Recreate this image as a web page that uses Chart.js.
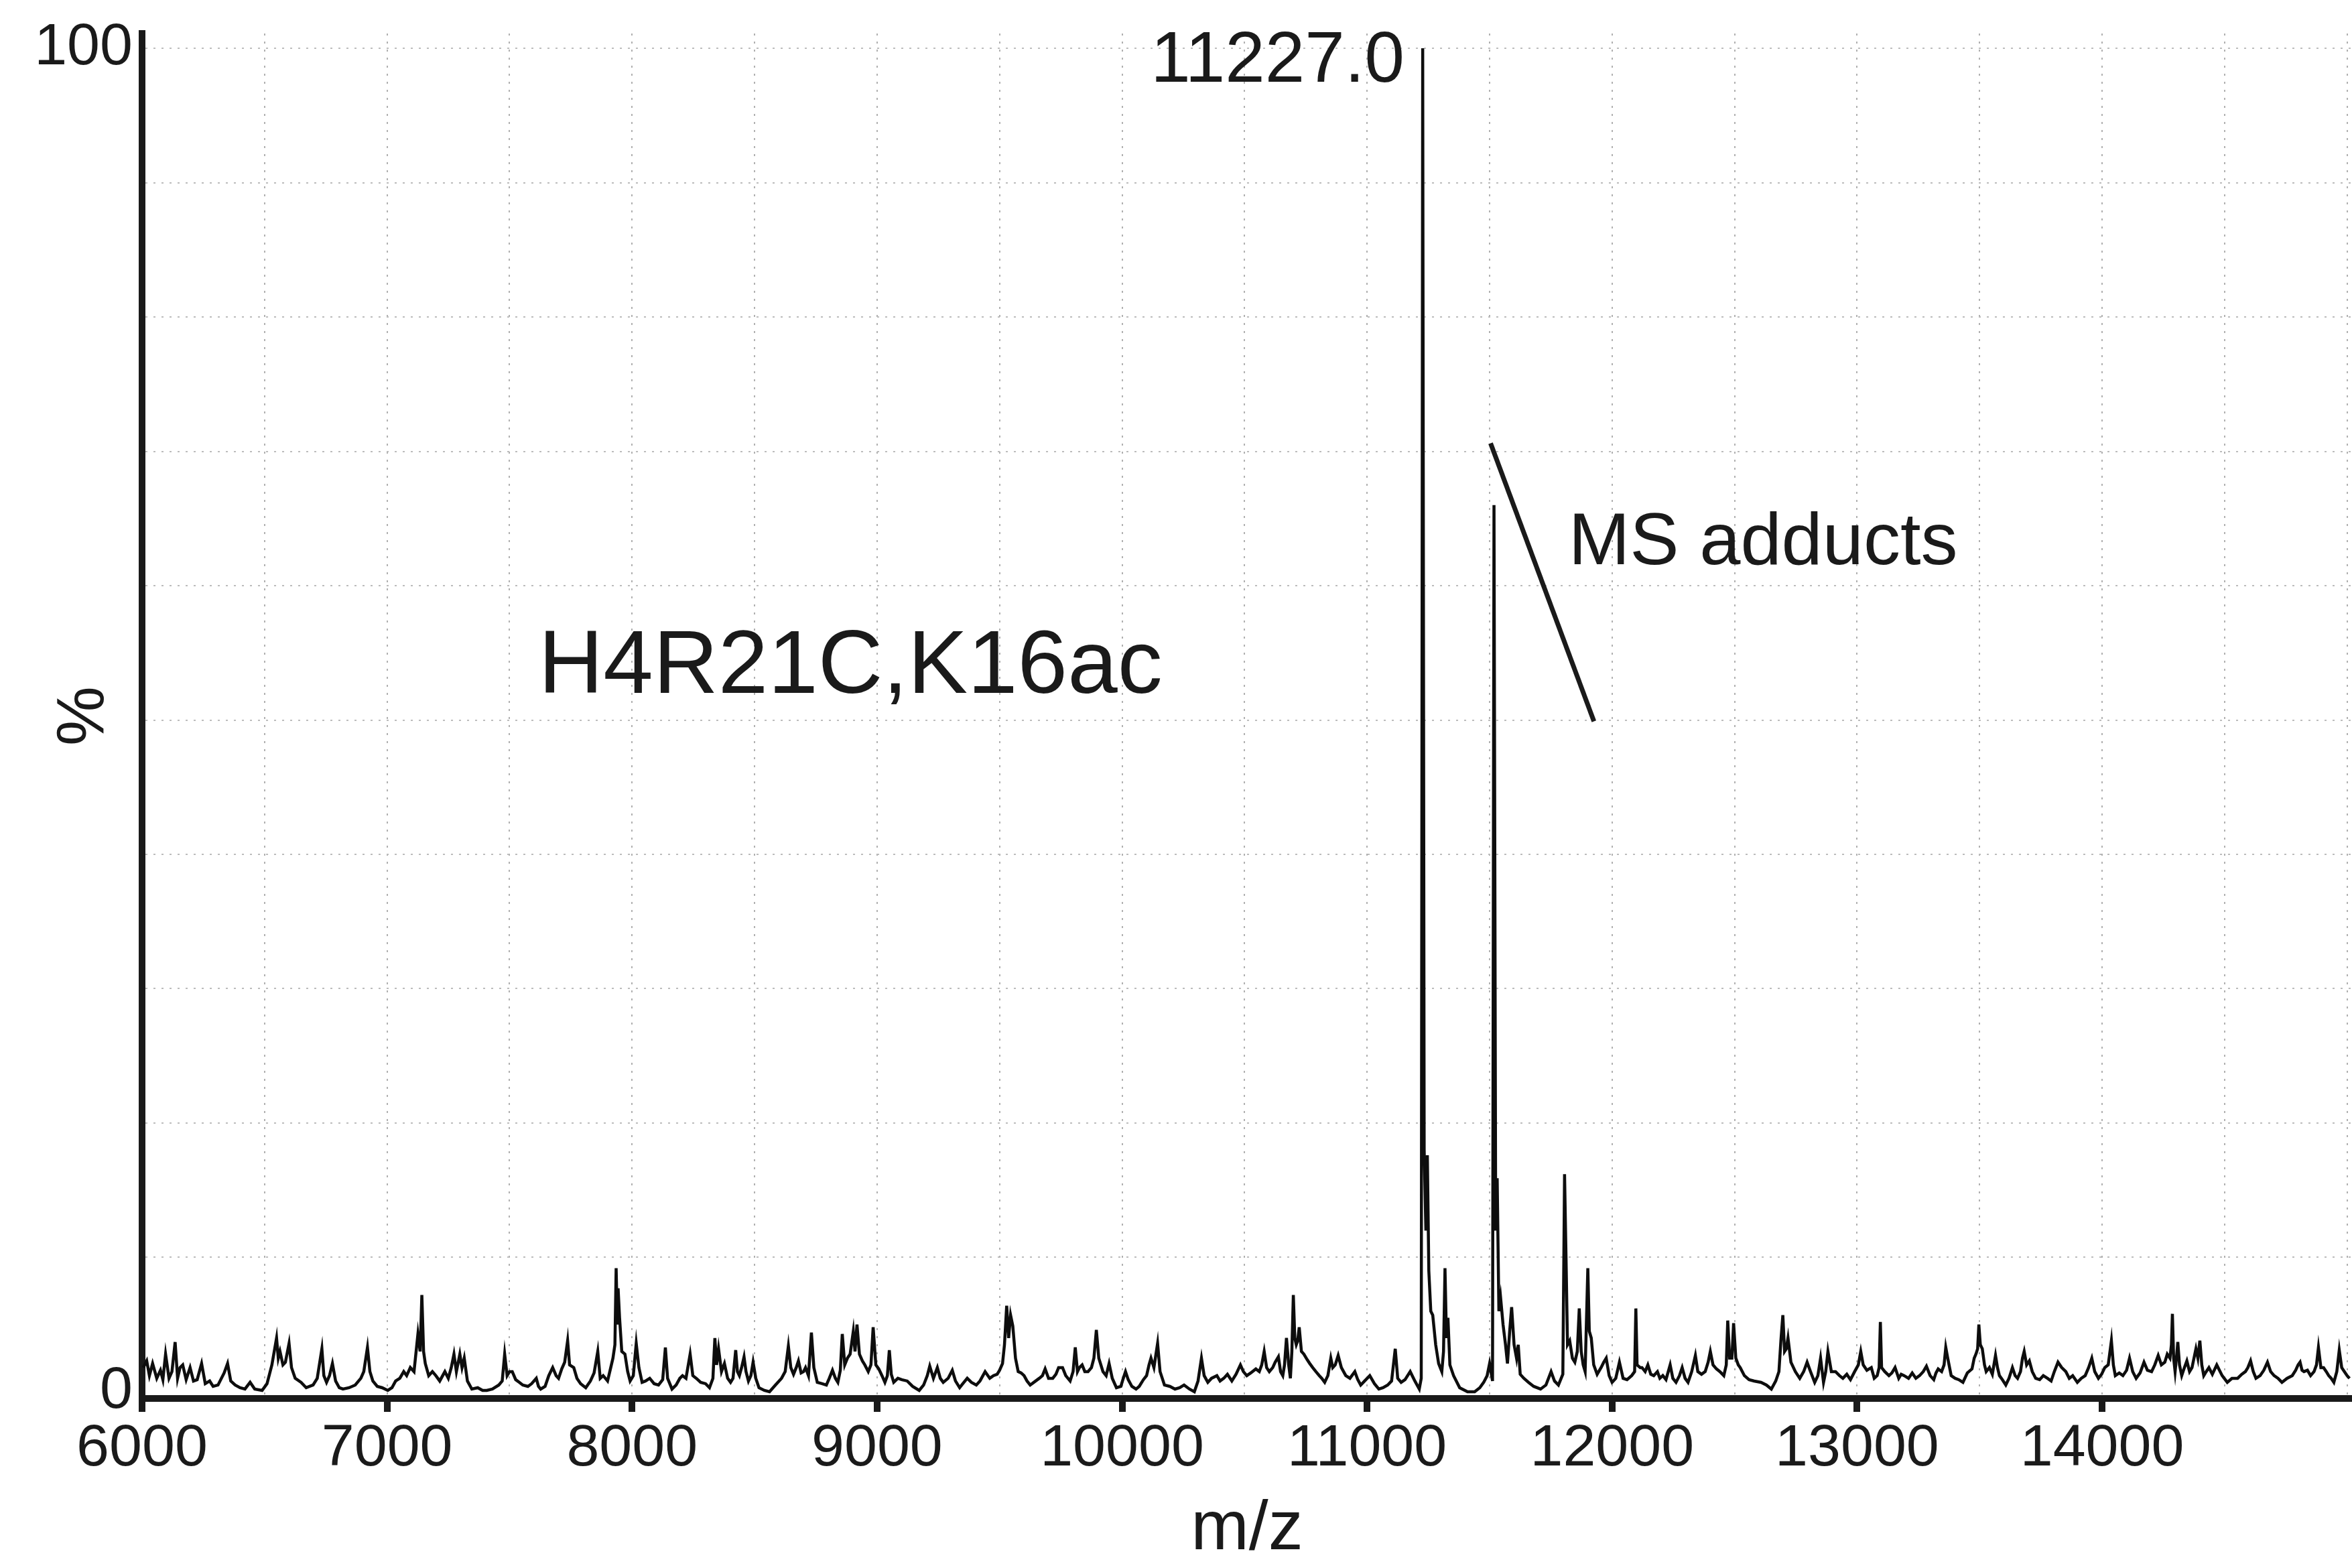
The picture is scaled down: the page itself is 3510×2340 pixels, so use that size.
<!DOCTYPE html>
<html>
<head>
<meta charset="utf-8">
<script src="https://cdn.jsdelivr.net/npm/chart.js@4/dist/chart.umd.min.js"></script>
<style>
  html, body { margin: 0; padding: 0; background: #ffffff; }
  canvas { display: block; }
</style>
</head>
<body>
<canvas id="c" width="3510" height="2340"></canvas>
<script>
// ---------- data ----------
const mz = [
6005,6019,6030,6043,6060,6075,6085,6096,6110,6122,6135,6145,6155,6166,6180,6196,6210,6225,6243,6258,
6276,6290,6310,6335,6349,6362,6380,6400,6420,6441,6460,6490,6510,6530,6549,6556,6563,6575,6585,6600,
6610,6625,6649,6670,6698,6715,6734,6742,6753,6765,6777,6790,6805,6820,6845,6870,6893,6905,6920,6930,
6942,6960,6980,7003,7020,7035,7052,7068,7080,7095,7110,7126,7135,7142,7149,7156,7170,7185,7199,7215,
7236,7250,7262,7273,7283,7297,7306,7315,7328,7346,7370,7390,7407,7430,7456,7470,7480,7490,7500,7511,
7525,7540,7554,7575,7590,7609,7618,7627,7645,7660,7676,7690,7700,7713,7725,7737,7745,7762,7775,7790,
7811,7830,7845,7860,7870,7882,7900,7913,7922,7930,7935,7940,7943,7949,7958,7971,7982,7992,8005,8017,
8028,8041,8055,8072,8090,8108,8125,8136,8145,8163,8180,8195,8206,8220,8237,8248,8262,8280,8300,8316,
8330,8338,8345,8353,8365,8377,8390,8402,8412,8423,8430,8438,8447,8457,8465,8475,8485,8494,8505,8518,
8540,8561,8585,8600,8610,8625,8638,8648,8659,8670,8679,8690,8700,8708,8720,8732,8742,8756,8775,8793,
8805,8818,8830,8840,8850,8858,8868,8879,8890,8903,8910,8918,8928,8940,8950,8964,8975,8984,8995,9007,
9020,9032,9042,9050,9058,9068,9085,9100,9123,9145,9172,9190,9205,9215,9230,9246,9258,9270,9290,9307,
9320,9337,9350,9368,9385,9405,9420,9441,9460,9475,9490,9500,9512,9520,9529,9537,9545,9554,9565,9576,
9588,9600,9612,9625,9640,9662,9675,9686,9700,9717,9730,9741,9757,9770,9788,9800,9809,9818,9826,9837,
9848,9861,9875,9885,9895,9905,9922,9935,9947,9960,9977,9995,10005,10014,10025,10040,10057,10070,10087,10100,
10110,10118,10130,10145,10155,10173,10195,10216,10235,10253,10275,10295,10310,10324,10335,10350,10365,10387,10400,10415,
10430,10448,10465,10483,10495,10509,10525,10546,10560,10570,10580,10590,10601,10615,10625,10638,10647,10656,10663,10671,
10680,10687,10693,10699,10705,10711,10717,10723,10732,10742,10755,10766,10778,10791,10805,10815,10827,10840,10852,10860,
10870,10882,10895,10913,10930,10950,10962,10974,10990,11011,11030,11048,11065,11084,11100,11115,11125,11139,11155,11176,
11195,11213,11221,11227,11233,11240,11246,11252,11260,11268,11280,11292,11305,11312,11318,11324,11330,11338,11353,11378,
11410,11439,11460,11476,11490,11500,11512,11518,11525,11531,11538,11545,11555,11565,11573,11582,11590,11600,11610,11617,
11625,11640,11659,11680,11708,11730,11751,11765,11781,11799,11806,11812,11818,11827,11838,11848,11858,11866,11874,11882,
11890,11901,11907,11915,11925,11939,11955,11966,11976,11988,12000,12015,12030,12045,12061,12080,12092,12097,12102,12115,
12122,12135,12146,12158,12170,12185,12195,12207,12220,12237,12248,12261,12275,12286,12298,12310,12325,12340,12350,12365,
12380,12392,12401,12412,12426,12440,12456,12466,12472,12480,12489,12496,12505,12515,12523,12540,12559,12580,12608,12630,
12650,12668,12681,12689,12697,12704,12711,12718,12730,12748,12766,12782,12796,12810,12827,12840,12851,12863,12872,12881,
12895,12912,12928,12942,12958,12973,12990,13005,13015,13025,13040,13058,13070,13082,13090,13095,13100,13113,13130,13142,
13155,13170,13180,13192,13210,13225,13240,13255,13270,13283,13298,13313,13322,13331,13345,13355,13362,13370,13384,13400,
13415,13432,13450,13469,13478,13485,13492,13497,13503,13511,13520,13527,13540,13552,13565,13573,13581,13593,13607,13620,
13634,13645,13655,13667,13675,13682,13692,13703,13715,13729,13745,13760,13777,13792,13805,13820,13835,13852,13866,13880,
13899,13915,13931,13945,13958,13970,13985,13998,14011,14025,14038,14046,14054,14070,14085,14100,14112,14125,14139,14155,
14171,14185,14202,14215,14229,14242,14256,14266,14277,14283,14287,14292,14298,14305,14309,14316,14325,14336,14346,14357,
14367,14375,14383,14391,14399,14407,14415,14425,14436,14450,14468,14490,14511,14530,14553,14570,14585,14595,14606,14617,
14628,14645,14660,14675,14688,14702,14718,14734,14755,14776,14790,14800,14808,14816,14824,14838,14851,14865,14875,14883,
14893,14904,14915,14925,14935,14946,14958,14968,14978,14989,15000,15010
];
const intensity = [
1.8,2.3,1.2,2.1,1.0,1.6,0.9,2.8,1.0,1.5,3.7,1.0,1.8,2.0,0.9,1.8,0.8,0.9,2.1,0.6,
0.8,0.4,0.5,1.4,2.1,0.8,0.5,0.3,0.2,0.7,0.2,0.1,0.6,2.0,4.0,2.5,3.0,2.0,2.2,3.6,
1.8,1.0,0.7,0.3,0.5,1.0,3.2,1.2,0.7,1.2,2.1,0.8,0.3,0.2,0.3,0.5,1.0,1.5,3.3,1.5,
0.8,0.4,0.3,0.1,0.3,0.8,1.0,1.5,1.2,1.8,1.5,4.3,3.0,7.2,3.0,2.1,1.2,1.5,1.2,0.8,
1.5,1.0,1.8,2.8,1.5,2.8,1.8,2.5,0.8,0.2,0.3,0.1,0.1,0.2,0.5,0.8,2.8,1.2,1.5,1.5,
0.9,0.7,0.5,0.4,0.6,1.0,0.4,0.2,0.4,1.2,1.8,1.2,1.0,1.7,2.2,3.8,2.0,1.8,1.0,0.6,
0.3,0.8,1.4,3.0,1.0,1.2,0.8,1.8,2.5,3.5,9.2,5.0,7.7,5.5,3.0,2.8,1.5,0.8,1.2,3.6,
1.8,0.7,0.8,1.0,0.6,0.5,0.9,3.3,1.0,0.2,0.5,1.0,1.2,1.0,2.8,1.2,1.0,0.7,0.6,0.3,
1.0,4.0,2.0,3.2,1.5,2.1,1.0,0.7,1.0,3.1,1.5,1.2,1.8,2.6,1.5,0.8,1.2,2.2,1.0,0.3,
0.1,0.0,0.5,0.8,1.0,1.5,3.4,1.8,1.3,1.8,2.3,1.4,1.5,1.8,1.2,4.4,1.8,0.7,0.6,0.5,
1.0,1.6,1.0,0.7,1.6,4.3,2.0,2.5,2.8,4.5,3.0,5.0,2.8,2.3,2.0,1.5,2.0,4.8,2.0,1.7,
1.2,0.7,1.2,3.1,1.3,0.7,1.0,0.9,0.8,0.4,0.1,0.5,1.2,1.9,1.0,1.8,1.0,0.7,1.0,1.6,
0.8,0.3,0.6,1.0,0.7,0.5,0.8,1.5,1.0,1.2,1.3,1.6,2.1,3.5,6.4,4.0,5.7,4.9,2.5,1.5,
1.4,1.2,0.8,0.5,0.7,1.0,1.2,1.7,1.0,1.0,1.3,1.8,1.8,1.2,0.8,1.5,3.3,1.5,1.8,2.0,
1.5,1.5,1.8,2.5,4.6,2.5,1.5,1.2,2.1,1.0,0.3,0.4,1.0,1.5,0.9,0.4,0.2,0.4,0.9,1.2,
2.0,2.5,1.8,3.6,1.5,0.5,0.4,0.2,0.3,0.5,0.2,0.0,0.8,2.5,1.2,0.7,1.0,1.2,0.8,1.0,
1.3,0.8,1.3,2.0,1.5,1.2,1.4,1.7,1.5,2.0,3.0,1.8,1.5,1.8,2.2,2.6,1.5,1.2,2.0,4.0,
2.0,1.0,3.0,7.2,4.0,3.5,3.8,4.8,3.0,2.8,2.4,2.1,1.8,1.5,1.2,1.0,0.7,1.2,2.5,1.8,
2.0,2.7,1.8,1.2,1.0,1.5,0.9,0.5,0.8,1.2,0.6,0.2,0.3,0.5,0.8,3.2,1.0,0.7,0.9,1.5,
0.8,0.2,1.0,100,18,12,17.6,9.0,6.0,5.7,3.5,2.1,1.5,3.0,9.2,4.0,5.5,2.0,1.2,0.3,
0.0,0.0,0.3,0.7,1.2,2.1,0.8,66,12,15.9,6.0,7.0,5.0,3.5,2.1,4.5,6.3,3.5,2.5,3.5,
1.3,1.0,0.7,0.4,0.2,0.5,1.5,0.8,0.5,1.3,16.2,10,3.5,3.8,2.5,2.2,3.0,6.2,3.0,2.0,
1.5,9.2,4.5,4.0,2.0,1.3,1.8,2.2,2.5,1.2,0.7,1.0,2.2,1.0,0.9,1.2,1.5,6.2,2.0,1.8,
1.8,1.5,2.0,1.3,1.2,1.5,1.0,1.2,0.9,2.0,1.0,0.7,1.2,1.8,1.0,0.7,1.5,2.7,1.5,1.3,
1.5,2.2,3.0,2.0,1.7,1.5,1.2,2.0,5.3,2.5,2.5,5.1,2.5,2.0,1.8,1.2,0.9,0.8,0.7,0.5,
0.2,0.8,1.5,3.8,5.7,3.0,3.2,4.0,2.2,1.5,1.0,1.5,2.2,1.5,0.7,1.2,2.5,0.7,1.5,3.0,
1.5,1.5,1.2,1.0,1.3,0.9,1.5,2.0,3.0,2.0,1.6,1.8,1.0,1.2,1.8,5.2,1.8,1.5,1.2,1.4,
1.8,1.0,1.3,1.2,1.0,1.4,1.0,1.2,1.5,1.9,1.2,0.9,1.4,1.7,1.5,2.0,3.3,2.5,1.2,1.0,
0.9,0.7,1.4,1.7,2.5,2.8,3.2,5.0,3.5,3.2,2.0,1.5,1.8,1.3,2.7,1.8,1.2,0.9,0.5,1.0,
1.8,1.2,1.0,1.5,2.5,3.0,2.0,2.3,1.5,1.0,0.9,1.2,1.0,0.8,1.5,2.2,1.8,1.5,1.0,1.2,
0.7,1.0,1.2,1.8,2.5,1.5,1.0,1.3,1.8,2.0,3.8,2.0,1.2,1.4,1.2,1.6,2.5,1.5,1.0,1.4,
2.2,1.6,1.5,2.0,2.7,2.0,2.2,2.8,2.5,3.5,5.8,2.5,1.5,2.8,3.7,2.0,1.2,1.8,2.3,1.5,
1.8,2.5,3.2,2.5,3.8,2.0,1.2,1.5,1.8,1.3,2.0,1.2,0.7,1.0,1.0,1.3,1.5,1.8,2.3,1.5,
1.0,1.2,1.6,2.2,1.5,1.2,1.0,0.7,1.0,1.2,1.6,2.0,2.2,1.6,1.5,1.6,1.2,1.5,2.0,3.3,
1.8,1.8,1.5,1.2,1.0,0.7,1.5,3.1,1.8,1.5,1.2,1.0
];

// axis ticks
const xGridTicks = [6000,6500,7000,7500,8000,8500,9000,9500,10000,10500,11000,11500,12000,12500,13000,13500,14000,14500,15000];
const xTickLabels = [6000,7000,8000,9000,10000,11000,12000,13000,14000];
const yGridTicks = [0,10,20,30,40,50,60,70,80,90,100];
const yTickLabels = [0,100];

// annotation texts
const peakLabel = '11227.0';
const sampleLabel = 'H4R21C,K16ac';
const adductLabel = 'MS adducts';

// ---------- chart ----------
const FONT = '"Liberation Sans", Arial, Helvetica, sans-serif';
const INK = '#1a1a1a';

const annotationConfig = {
  texts: [
    {text: peakLabel,   x: 11153, y: 97.5, align: 'right', size: 107},
    {text: sampleLabel, x: 7618,  y: 52.0, align: 'left',  size: 134},
    {text: adductLabel, x: 11822, y: 61.6, align: 'left',  size: 110}
  ],
  line: {x1: 11504, y1: 70.6, x2: 11926, y2: 49.9, width: 7}
};

const annotationPlugin = {
  id: 'msAnnotations',
  afterDatasetsDraw(chart) {
    const {ctx, scales: {x, y}} = chart;
    ctx.save();
    ctx.fillStyle = INK;
    ctx.textBaseline = 'alphabetic';
    annotationConfig.texts.forEach(t => {
      ctx.font = t.size + 'px ' + FONT;
      ctx.textAlign = t.align;
      ctx.fillText(t.text, x.getPixelForValue(t.x), y.getPixelForValue(t.y));
    });
    const l = annotationConfig.line;
    ctx.strokeStyle = INK;
    ctx.lineWidth = l.width;
    ctx.lineCap = 'butt';
    ctx.beginPath();
    ctx.moveTo(x.getPixelForValue(l.x1), y.getPixelForValue(l.y1));
    ctx.lineTo(x.getPixelForValue(l.x2), y.getPixelForValue(l.y2));
    ctx.stroke();
    ctx.restore();
  }
};

const points = mz.map((m, i) => ({x: m, y: intensity[i]}));

new Chart(document.getElementById('c'), {
  type: 'line',
  data: {
    datasets: [{
      data: points,
      borderColor: '#0d0d0d',
      borderWidth: 4.5,
      borderJoinStyle: 'miter',
      pointRadius: 0,
      tension: 0,
      fill: false
    }]
  },
  options: {
    responsive: false,
    animation: false,
    devicePixelRatio: 1,
    parsing: false,
    normalized: true,
    events: [],
    layout: {padding: {top: 50, left: 0, right: 0, bottom: 0}},
    plugins: {legend: {display: false}, tooltip: {enabled: false}},
    scales: {
      x: {
        type: 'linear',
        min: 6000,
        max: 15020,
        afterBuildTicks: s => { s.ticks = xGridTicks.map(v => ({value: v})); },
        afterFit: s => { s.height = 253; s.paddingLeft = 0; s.paddingRight = 0; },
        ticks: {
          autoSkip: false,
          maxRotation: 0,
          padding: 3,
          color: INK,
          font: {family: FONT, size: 88},
          callback: v => xTickLabels.includes(v) ? String(v) : ''
        },
        grid: {
          color: c => (c.tick && c.tick.value === 6000) ? 'rgba(0,0,0,0)' : '#b0b0b0',
          lineWidth: 2,
          drawTicks: true,
          tickLength: 20,
          tickWidth: 10,
          tickColor: c => (c.tick && xTickLabels.includes(c.tick.value)) ? INK : 'rgba(0,0,0,0)',
          tickBorderDash: []
        },
        border: {display: true, color: INK, width: 10, dash: [3, 9]},
        title: {
          display: true,
          text: 'm/z',
          color: INK,
          font: {family: FONT, size: 104},
          padding: {top: 0, bottom: -6}
        }
      },
      y: {
        type: 'linear',
        min: -0.5,
        max: 101.1,
        afterBuildTicks: s => { s.ticks = yGridTicks.map(v => ({value: v})); },
        afterFit: s => { s.width = 212; s.paddingTop = 0; s.paddingBottom = 0; },
        ticks: {
          padding: 14,
          color: INK,
          font: {family: FONT, size: 88},
          callback: v => yTickLabels.includes(v) ? String(v) : ''
        },
        grid: {
          color: c => (c.tick && c.tick.value === 0) ? 'rgba(0,0,0,0)' : '#bcbcbc',
          lineWidth: 2,
          drawTicks: false
        },
        border: {display: true, color: INK, width: 10, dash: [3, 9]},
        title: {
          display: true,
          text: '%',
          color: INK,
          font: {family: FONT, size: 100},
          padding: {top: 66, bottom: 0}
        }
      }
    }
  },
  plugins: [annotationPlugin]
});
</script>
</body>
</html>
